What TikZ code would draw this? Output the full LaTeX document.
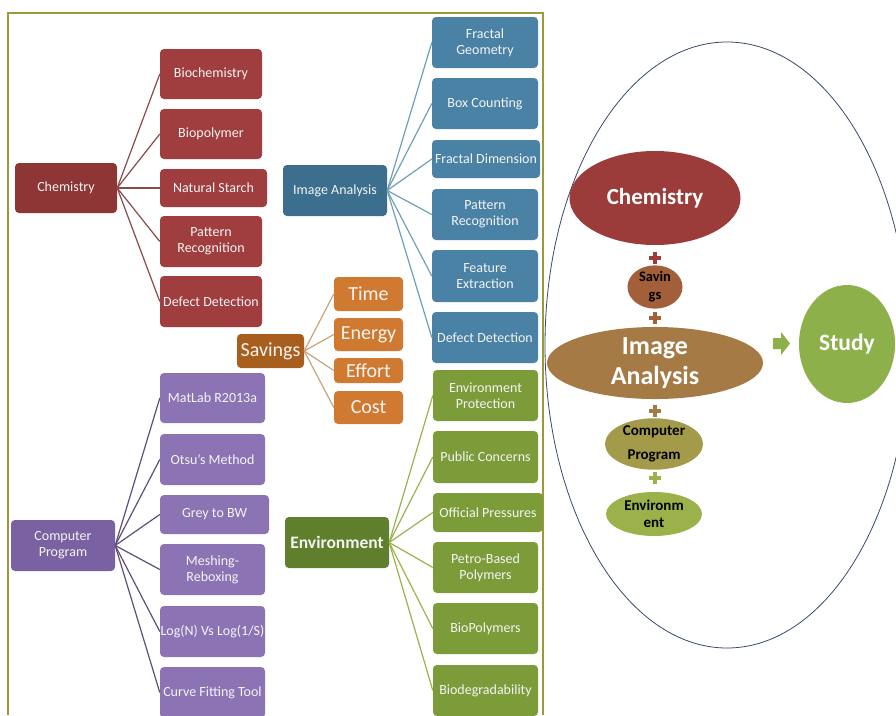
\documentclass[tikz,border=0pt]{standalone}
\usepackage{fontspec}
\setmainfont{Carlito}
\usetikzlibrary{shapes.geometric}
\definecolor{chP}{HTML}{8E3535}
\definecolor{chC}{HTML}{A03D3F}
\definecolor{chL}{HTML}{8A4A4A}
\definecolor{iaP}{HTML}{3C6E8E}
\definecolor{iaC}{HTML}{4A82A6}
\definecolor{iaL}{HTML}{6FA0B8}
\definecolor{svP}{HTML}{A85F1E}
\definecolor{svC}{HTML}{CF7A30}
\definecolor{svL}{HTML}{C9A27E}
\definecolor{cpP}{HTML}{7A62A2}
\definecolor{cpC}{HTML}{8C74B4}
\definecolor{cpL}{HTML}{5E4E7A}
\definecolor{enP}{HTML}{5F7F2C}
\definecolor{enC}{HTML}{7C9C3A}
\definecolor{enL}{HTML}{9AB34E}
\definecolor{frameC}{HTML}{9A9A3A}
\definecolor{ovalC}{HTML}{3A4A6A}
\definecolor{eChem}{HTML}{9B3B3A}
\definecolor{eSav}{HTML}{A35F3A}
\definecolor{eIA}{HTML}{A57A45}
\definecolor{eCP}{HTML}{A39A4A}
\definecolor{eEnv}{HTML}{9BB24A}
\definecolor{eStudy}{HTML}{8DB04A}
\definecolor{txtW}{HTML}{F4F4F4}
\tikzset{
  wh/.style 2 args={minimum width=#1pt, minimum height=#2pt},
  box/.style={rectangle, rounded corners=4pt, inner xsep=0pt, inner ysep=1pt, align=center, text=txtW,
    font=\fontsize{14}{16}\selectfont},
  big/.style={font=\fontsize{20}{22}\selectfont},
  conn/.style={line width=1.2pt},
  oval/.style={ellipse, inner sep=0pt, align=center},
  plusmark/.style={line width=4pt},
}
\begin{document}
\begin{tikzpicture}[x=1pt,y=-1pt]
\useasboundingbox[fill=white] (0,0) rectangle (896,715);
% frame
\draw[frameC, line width=1.5pt] (8,715) -- (8,13) -- (543,13) -- (543,715);

% Chemistry tree
\node[box, fill=chP, wh={102}{50}] (chem) at (66,188) {Chemistry};
\node[box, fill=chC, wh={102}{50}] (c1) at (211,74) {Biochemistry};
\node[box, fill=chC, wh={102}{50}] (c2) at (211,134) {Biopolymer};
\node[box, fill=chC, wh={107}{38}] (c3) at (213.5,188) {Natural Starch};
\node[box, fill=chC, wh={102}{51}] (c4) at (211,241.5) {Pattern\\Recognition};
\node[box, fill=chC, wh={102}{51}] (c5) at (211,301.5) {Defect Detection};
\foreach \n in {c1,c2,c3,c4,c5} \draw[chL, conn] (chem.east) -- (\n.west);

% Image Analysis tree
\node[box, fill=iaP, wh={104}{51}] (ia) at (335,190.5) {Image Analysis};
\node[box, fill=iaC, wh={106}{51}] (i1) at (485,42.5) {Fractal\\Geometry};
\node[box, fill=iaC, wh={106}{51}] (i2) at (485,103.5) {Box Counting};
\node[box, fill=iaC, wh={108}{38}] (i3) at (486,159) {Fractal Dimension};
\node[box, fill=iaC, wh={106}{51}] (i4) at (485,214.5) {Pattern\\Recognition};
\node[box, fill=iaC, wh={106}{52}] (i5) at (485,276) {Feature\\Extraction};
\node[box, fill=iaC, wh={106}{51}] (i6) at (485,337.5) {Defect Detection};
\foreach \n in {i1,i2,i3,i4,i5,i6} \draw[iaL, conn] (ia.east) -- (\n.west);

% Savings tree
\node[box, big, fill=svP, wh={67}{34}] (sav) at (270.5,351) {Savings};
\node[box, big, fill=svC, wh={69}{34}] (s1) at (368.5,294) {Time};
\node[box, big, fill=svC, wh={69}{33}] (s2) at (368.5,334.5) {Energy};
\node[box, big, fill=svC, wh={69}{25}] (s3) at (368.5,370.5) {Effort};
\node[box, big, fill=svC, wh={69}{33}] (s4) at (368.5,407.5) {Cost};
\foreach \n in {s1,s2,s3,s4} \draw[svL, conn] (sav.east) -- (\n.west);

% Computer Program tree
\node[box, fill=cpP, wh={104}{51}] (cp) at (63,545.5) {Computer\\Program};
\node[box, fill=cpC, wh={105}{50}] (p1) at (212.5,398) {MatLab R2013a};
\node[box, fill=cpC, wh={105}{51}] (p2) at (212.5,459.5) {Otsu’s Method};
\node[box, fill=cpC, wh={109}{39}] (p3) at (214.5,514.5) {Grey to BW};
\node[box, fill=cpC, wh={105}{51}] (p4) at (212.5,569.5) {Meshing-\\Reboxing};
\node[box, fill=cpC, wh={105}{51}] (p5) at (212.5,631.5) {Log(N) Vs Log(1/S)};
\node[box, fill=cpC, wh={105}{51}] (p6) at (212.5,692.5) {Curve Fitting Tool};
\foreach \n in {p1,p2,p3,p4,p5,p6} \draw[cpL, conn] (cp.east) -- (\n.west);

% Environment tree
\node[box, fill=enP, wh={104}{51}, font=\bfseries\fontsize{17.5}{19}\selectfont] (env) at (337,542.5) {Environment};
\node[box, fill=enC, wh={105}{51}] (e1) at (485.5,395.5) {Environment\\Protection};
\node[box, fill=enC, wh={105}{52}] (e2) at (485.5,457) {Public Concerns};
\node[box, fill=enC, wh={110}{39}] (e3) at (488,512.5) {Official Pressures};
\node[box, fill=enC, wh={105}{51}] (e4) at (485.5,567.5) {Petro-Based\\Polymers};
\node[box, fill=enC, wh={105}{51}] (e5) at (485.5,628.5) {BioPolymers};
\node[box, fill=enC, wh={105}{51}] (e6) at (485.5,690.5) {Biodegradability};
\foreach \n in {e1,e2,e3,e4,e5,e6} \draw[enL, conn] (env.east) -- (\n.west);

% Right side
\begin{scope}
\clip (0,0) rectangle (896,715);
\draw[ovalC, line width=0.8pt] (727,345) ellipse [x radius=182pt, y radius=303pt];
\node[oval, fill=eStudy, wh={96}{118}, text=white, font=\bfseries\fontsize{23.5}{25}\selectfont] (study) at (847,344) {Study};
\end{scope}
\node[oval, fill=eChem, wh={171}{94}, text=white, font=\bfseries\fontsize{23}{25}\selectfont] (ochem) at (655,198) {Chemistry};
\node[oval, fill=eSav, wh={55}{34}, text=black, font=\bfseries\fontsize{14.5}{18}\selectfont] (osav) at (655,287) {Savin\\gs};
\node[oval, fill=eIA, wh={216}{67}, text=white, font=\bfseries\fontsize{26}{30}\selectfont] (oia) at (655,363) {Image\\Analysis};
\node[oval, fill=eCP, wh={98}{42}, text=black, font=\bfseries\fontsize{15}{24}\selectfont] (ocp) at (654,444) {Computer\\Program};
\node[oval, fill=eEnv, wh={96}{44}, text=black, font=\bfseries\fontsize{15}{17}\selectfont] (oenv) at (654,514) {Environm\\ent};
% plus signs
\draw[plusmark, eChem] (649,258) -- (661,258) (655,252) -- (655,264);
\draw[plusmark, eSav] (649,318) -- (661,318) (655,312) -- (655,324);
\draw[plusmark, eIA] (649,411) -- (661,411) (655,405) -- (655,417);
\draw[plusmark, eEnv] (649,478) -- (661,478) (655,472) -- (655,484);
% arrow
\fill[eStudy] (773,338) -- (781,338) -- (781,332) -- (790,343.5) -- (781,355) -- (781,349) -- (773,349) -- cycle;
\end{tikzpicture}
\end{document}
